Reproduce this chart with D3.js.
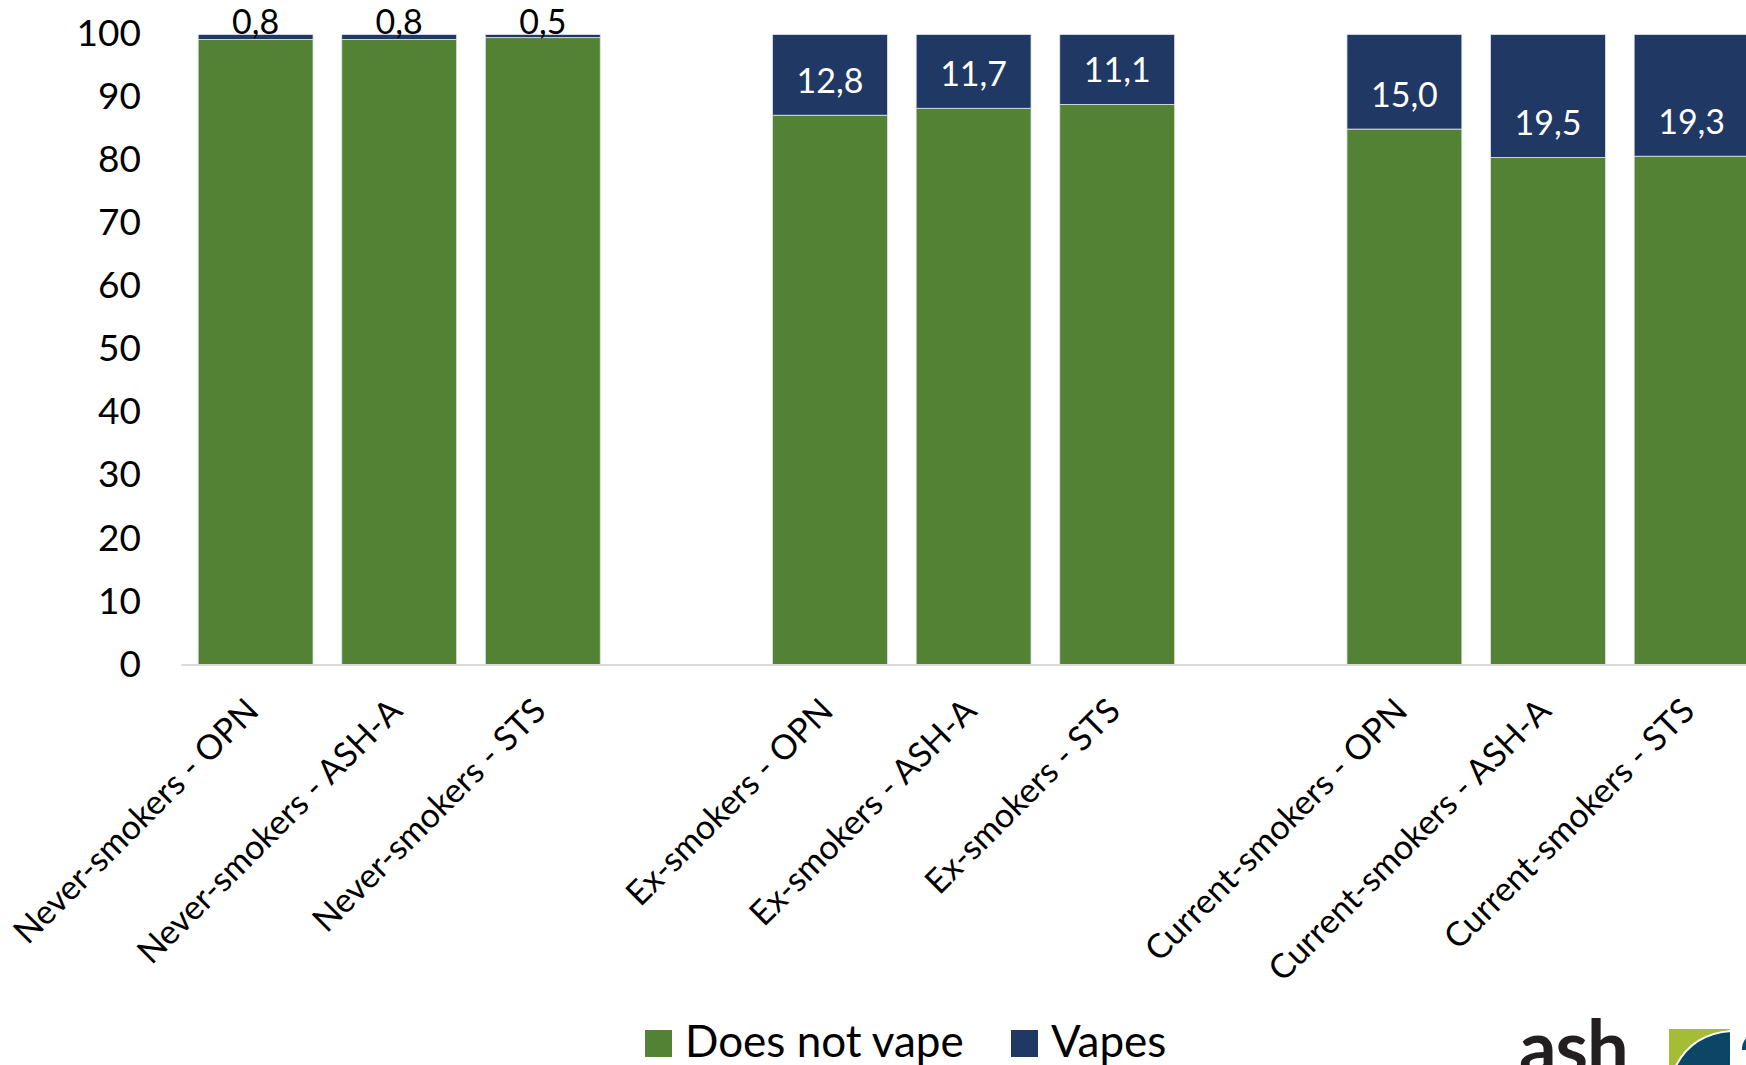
<!DOCTYPE html>
<html>
<head>
<meta charset="utf-8">
<script src="https://cdn.jsdelivr.net/npm/d3@7"></script>
<style>
  html, body { margin: 0; padding: 0; background: #ffffff; }
  svg { display: block; }
  text { font-family: Lato, "Open Sans", sans-serif; }
</style>
</head>
<body>
<div id="chart"></div>
<script>
// ---- data ----
const groups = ["Never-smokers", "Ex-smokers", "Current-smokers"];
const sources = ["OPN", "ASH-A", "STS"];
const categories = [
  "Never-smokers - OPN", "Never-smokers - ASH-A", "Never-smokers - STS",
  "Ex-smokers - OPN", "Ex-smokers - ASH-A", "Ex-smokers - STS",
  "Current-smokers - OPN", "Current-smokers - ASH-A", "Current-smokers - STS"
];
const vapes = [0.8, 0.8, 0.5, 12.8, 11.7, 11.1, 15.0, 19.5, 19.3];
const doesNotVape = [99.2, 99.2, 99.5, 87.2, 88.3, 88.9, 85.0, 80.5, 80.7];
const seriesNames = ["Does not vape", "Vapes"];
const seriesColors = ["#548235", "#203864"];
const yTicks = [0, 10, 20, 30, 40, 50, 60, 70, 80, 90, 100];

// ---- layout ----
const W = 1746, H = 1065;
const svg = d3.select("#chart").append("svg").attr("width", W).attr("height", H);

// slots: categories with an empty spacer slot between groups
const slots = [];
categories.forEach((c, i) => {
  if (i > 0 && i % 3 === 0) slots.push("__gap" + i);
  slots.push(c);
});

const x = d3.scaleBand().domain(slots).range([181.5, 1765.7]).paddingInner(0.2).paddingOuter(0.116);
const y = d3.scaleLinear().domain([0, 100]).range([665, 34.5]);

const table = categories.map((c, i) => ({ cat: c, notVape: doesNotVape[i], vapes: vapes[i] }));
const stacked = d3.stack().keys(["notVape", "vapes"])(table);

// bars
stacked.forEach((s, si) => {
  svg.append("g").selectAll("rect").data(s).join("rect")
    .attr("x", d => x(d.data.cat))
    .attr("y", d => y(d[1]))
    .attr("width", x.bandwidth())
    .attr("height", d => y(d[0]) - y(d[1]))
    .attr("fill", seriesColors[si])
    .attr("stroke", "#dfe4ea")
    .attr("stroke-width", 0.8);
});

// x axis line
svg.append("line")
  .attr("x1", 181.5).attr("x2", W)
  .attr("y1", y(0)).attr("y2", y(0))
  .attr("stroke", "#d9d9d9").attr("stroke-width", 2);

// y axis labels (no line, no ticks)
const yAxis = d3.axisLeft(y).tickValues(yTicks).tickSize(0).tickPadding(0);
const gy = svg.append("g").attr("transform", "translate(141,0)").call(yAxis);
gy.select(".domain").remove();
gy.selectAll("text")
  .attr("font-family", "Lato, 'Open Sans', sans-serif")
  .attr("font-size", 37)
  .attr("fill", "#000")
  .attr("dy", "0.3em");

// category labels
svg.append("g").selectAll("text").data(categories).join("text")
  .attr("transform", d => `translate(${x(d) + x.bandwidth() / 2 + 5},713) rotate(-45)`)
  .attr("text-anchor", "end")
  .attr("font-size", 34)
  .attr("fill", "#000")
  .text(d => d);

// data labels for Vapes
const fmt = v => v.toFixed(1).replace(".", ",");
svg.append("g").selectAll("text").data(stacked[1]).join("text")
  .attr("x", d => x(d.data.cat) + x.bandwidth() / 2)
  .attr("y", d => (d.data.vapes < 2) ? y(d[1]) - 1 : y(d[0]) - 22)
  .attr("text-anchor", "middle")
  .attr("font-size", 34)
  .attr("fill", d => (d.data.vapes < 2) ? "#000" : "#fff")
  .text(d => fmt(d.data.vapes));

// legend
const legend = svg.append("g");
const legendX = [645, 1011];
seriesNames.forEach((n, i) => {
  legend.append("rect").attr("x", legendX[i]).attr("y", 1030).attr("width", 27).attr("height", 27)
    .attr("fill", seriesColors[i]);
  legend.append("text").attr("x", legendX[i] + 40).attr("y", 1057)
    .attr("font-size", 44).attr("fill", "#000").text(n);
});

// logo (decorative, partially cropped at bottom-right as in the reference)
svg.append("text").attr("x", 1519).attr("y", 1074)
  .attr("font-family", "'Liberation Sans Narrow', 'Liberation Sans', sans-serif")
  .attr("font-weight", 700).attr("font-size", 74).attr("fill", "#231f20")
  .attr("letter-spacing", -1).text("ash");
svg.append("rect").attr("x", 1669).attr("y", 1029).attr("width", 61).attr("height", 40).attr("fill", "#a4bd35");
svg.append("path")
  .attr("d", "M1674,1070 Q1690,1034 1731,1031 L1731,1070 Z")
  .attr("fill", "#0d4566").attr("stroke", "#fff").attr("stroke-width", 2);
svg.append("path")
  .attr("d", "M1752,1035 A14,14 0 0 0 1742,1050 L1746,1050 A10,10 0 0 1 1752,1040 Z")
  .attr("fill", "#0d4566");
</script>
</body>
</html>
